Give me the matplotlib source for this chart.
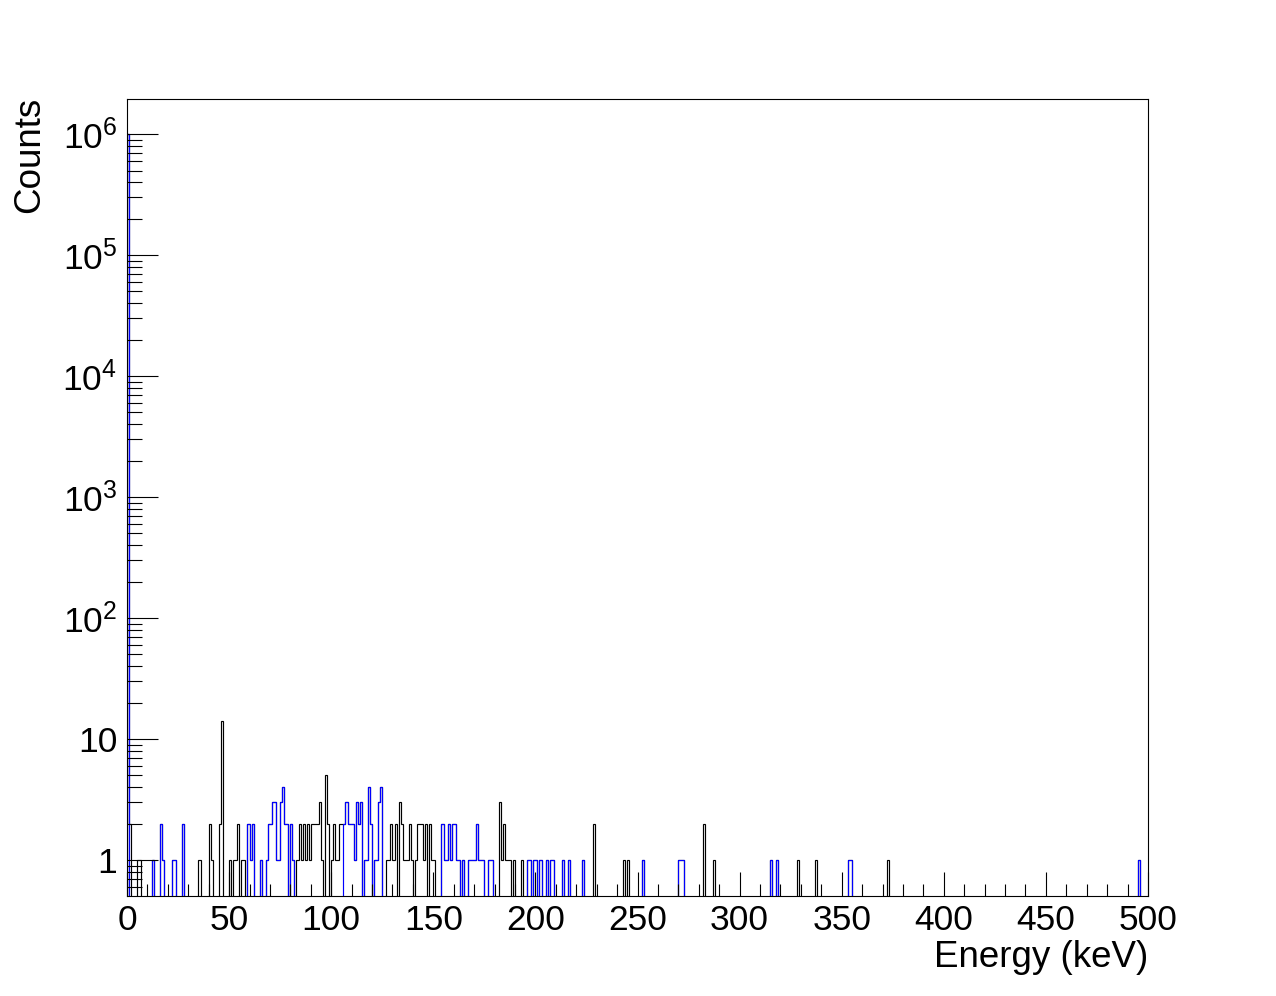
import numpy as np
import matplotlib
matplotlib.use("Agg")
import matplotlib.pyplot as plt
from matplotlib.ticker import MultipleLocator, LogLocator, FuncFormatter, NullFormatter

plt.rcParams["font.family"] = ["Liberation Sans", "DejaVu Sans"]
plt.rcParams["mathtext.fontset"] = "custom"
plt.rcParams["mathtext.rm"] = "Liberation Sans"
plt.rcParams["mathtext.it"] = "Liberation Sans:italic"

# 1 keV bins from 0 to 500 keV
n_bins = 500
e_min, e_max = 0, 500

# black histogram: bins (keV) and counts
black_bins = [1, 5, 6, 35, 40, 41, 45, 46, 50, 52, 53, 54, 56, 57,
              83, 84, 85, 86, 87, 88, 89, 90, 91, 92, 93, 94, 95, 97, 98,
              100, 101, 102, 103, 104, 105,
              127, 128, 129, 130, 131, 133, 134, 135, 136, 137, 138, 139,
              141, 142, 143, 144, 145, 146, 148, 149, 150,
              182, 183, 184, 185, 186, 187, 189, 193,
              228, 243, 245, 282, 287, 328, 337, 372]
black_vals = [2, 1, 1, 1, 2, 1, 2, 14, 1, 1, 1, 2, 1, 1,
              1, 2, 1, 2, 1, 2, 1, 2, 2, 2, 2, 3, 1, 5, 2,
              1, 2, 1, 1, 2, 2,
              1, 1, 2, 1, 2, 3, 2, 1, 1, 1, 2, 1,
              1, 2, 2, 2, 1, 2, 2, 1, 1,
              3, 1, 2, 1, 1, 1, 1, 1,
              2, 1, 1, 2, 1, 1, 1, 1]

# blue histogram: bins (keV) and counts
blue_bins = [0, 12, 16, 17, 22, 23, 27,
             59, 60, 61, 65, 68, 69, 70, 71, 72, 73, 74, 75, 76, 77, 78, 80, 81,
             106, 107, 108, 109, 110, 111, 112, 113, 114, 116, 117, 118, 119,
             121, 122, 123, 124,
             154, 155, 156, 157, 158, 159, 160, 161, 162, 164, 167, 168, 169,
             170, 171, 172, 173, 174, 177, 178,
             196, 197, 199, 200, 202, 205, 207, 208, 213, 216, 223,
             252, 270, 271, 272, 315, 318, 353, 354, 495]
blue_vals = [1.0e6, 1, 2, 1, 1, 1, 2,
             2, 1, 2, 1, 1, 2, 2, 3, 3, 1, 1, 3, 4, 2, 2, 2, 1,
             2, 3, 2, 2, 2, 1, 3, 2, 3, 1, 1, 4, 2,
             1, 1, 3, 4,
             2, 1, 1, 2, 1, 2, 2, 1, 1, 1, 1, 1, 1,
             1, 2, 1, 1, 1, 1, 1,
             1, 1, 1, 1, 1, 1, 1, 1, 1, 1, 1,
             1, 1, 1, 1, 1, 1, 1, 1, 1]

edges = np.linspace(e_min, e_max, n_bins + 1)
blue = np.zeros(n_bins)
blue[blue_bins] = blue_vals
total = blue.copy()
total[black_bins] = black_vals

floor = 1e-3  # empty bins drawn down past the frame, like ROOT

fig = plt.figure(figsize=(12.76, 9.96), dpi=100)
ax = fig.add_axes([127 / 1276, 100 / 996, 1021 / 1276, 797 / 996])

ax.stairs(np.where(total > 0, total, floor), edges, baseline=floor,
          color="black", lw=0.85, zorder=1)
ax.stairs(np.where(blue > 0, blue, floor), edges, baseline=floor,
          color="blue", lw=0.85, zorder=1.2)

ax.set_yscale("log")
ax.set_xlim(e_min, e_max)
ax.set_ylim(0.504, 1.95e6)

ax.xaxis.set_major_locator(MultipleLocator(50))
ax.xaxis.set_minor_locator(MultipleLocator(10))
ax.yaxis.set_major_locator(LogLocator(base=10, numticks=20))
ax.yaxis.set_minor_locator(LogLocator(base=10, subs=np.arange(2, 10), numticks=20))
ax.yaxis.set_minor_formatter(NullFormatter())


def log_label(v, pos):
    n = int(round(np.log10(v)))
    if n == 0:
        return "1"
    if n == 1:
        return "10"
    return r"$10^{%d}$" % n


ax.yaxis.set_major_formatter(FuncFormatter(log_label))

ax.tick_params(which="both", direction="in", top=False, right=False,
               width=0.8, labelsize=25.5)
ax.tick_params(axis="x", which="major", length=17, pad=6)
ax.tick_params(axis="x", which="minor", length=8.6)
ax.tick_params(axis="y", which="major", length=22, pad=7)
ax.tick_params(axis="y", which="minor", length=11)
for s in ax.spines.values():
    s.set_linewidth(0.8)

fig.text(30 / 1276, 1 - 97 / 996, "Counts", rotation=90, ha="center", va="top",
         fontsize=26.5)
fig.text(1148 / 1276, 1 - 967 / 996, "Energy (keV)", ha="right", va="baseline",
         fontsize=26.5)

fig.savefig("out.png", dpi=100)
